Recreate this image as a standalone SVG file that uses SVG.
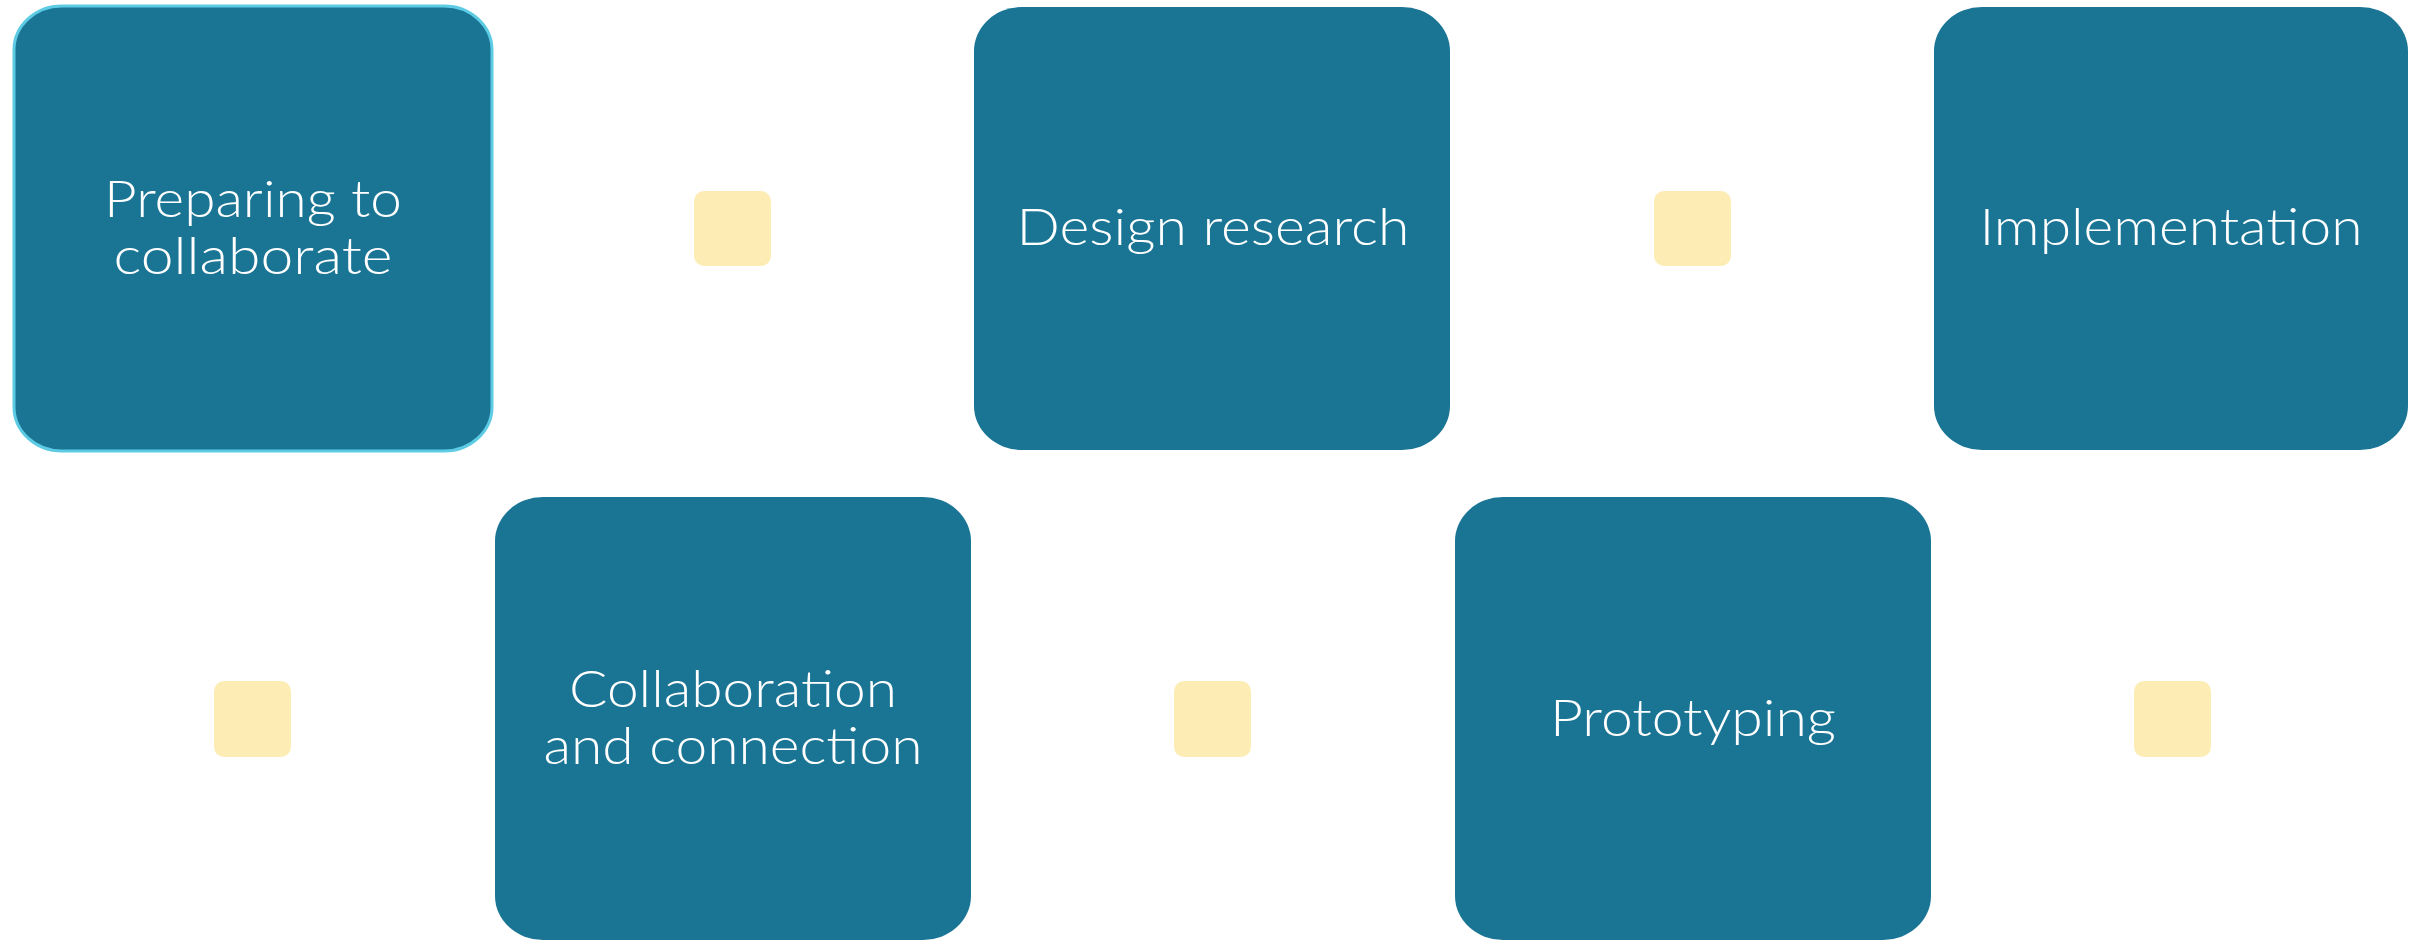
<svg xmlns="http://www.w3.org/2000/svg" width="2425" height="940" viewBox="0 0 2425 940">
<style>
.box{fill:#1a7595;}
.first{stroke:#5ccbe3;stroke-width:3;}
.sq{fill:#fdedb5;}
.lbl{fill:#ffffff;font-family:"Lato","Open Sans","Liberation Sans",sans-serif;font-weight:300;font-size:52px;text-anchor:middle;}
</style>
<rect width="2425" height="940" fill="#ffffff"/>
<g id="connectors"/>
<g id="node-preparing">
<rect class="box first" x="14" y="6" width="478" height="445" rx="48" ry="44"/>
<text class="lbl" x="253" y="217" textLength="298" lengthAdjust="spacingAndGlyphs">Preparing to</text>
<text class="lbl" x="253" y="274" textLength="279" lengthAdjust="spacingAndGlyphs">collaborate</text>
</g>
<g id="node-design">
<rect class="box" x="974" y="7" width="476" height="443" rx="48" ry="44"/>
<text class="lbl" x="1213" y="245" textLength="393" lengthAdjust="spacingAndGlyphs">Design research</text>
</g>
<g id="node-implementation">
<rect class="box" x="1934" y="7" width="474" height="443" rx="48" ry="44"/>
<text class="lbl" x="2171" y="245" textLength="383" lengthAdjust="spacingAndGlyphs">Implementation</text>
</g>
<g id="node-collaboration">
<rect class="box" x="495" y="497" width="476" height="443" rx="48" ry="44"/>
<text class="lbl" x="733" y="707" textLength="328" lengthAdjust="spacingAndGlyphs">Collaboration</text>
<text class="lbl" x="733" y="764" textLength="379" lengthAdjust="spacingAndGlyphs">and connection</text>
</g>
<g id="node-prototyping">
<rect class="box" x="1455" y="497" width="476" height="443" rx="48" ry="44"/>
<text class="lbl" x="1693" y="736" textLength="286" lengthAdjust="spacingAndGlyphs">Prototyping</text>
</g>
<g id="markers">
<rect class="sq" x="694" y="191" width="77" height="75" rx="10"/>
<rect class="sq" x="1654" y="191" width="77" height="75" rx="10"/>
<rect class="sq" x="214" y="681" width="77" height="76" rx="10"/>
<rect class="sq" x="1174" y="681" width="77" height="76" rx="10"/>
<rect class="sq" x="2134" y="681" width="77" height="76" rx="10"/>
</g>
</svg>
